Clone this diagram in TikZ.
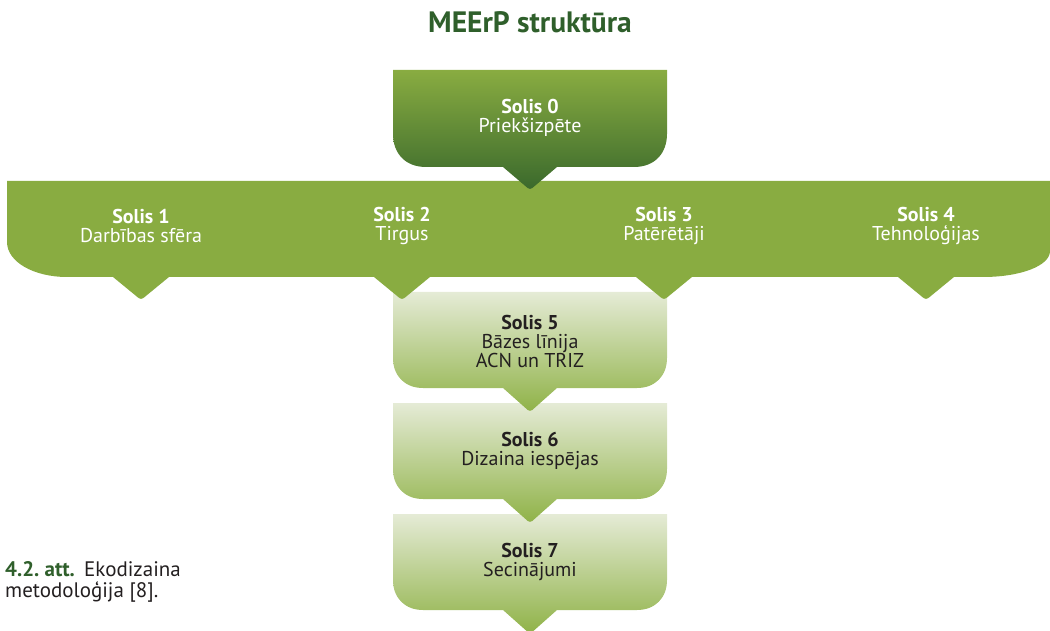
\documentclass[tikz,border=0pt]{standalone}
\usepackage{fontspec}
\setmainfont{PT Sans}
\definecolor{banner}{HTML}{89AC41}
\definecolor{darkg}{HTML}{3A692C}
\definecolor{lightg}{HTML}{E5EBD6}
\definecolor{midg}{HTML}{8FB247}
\definecolor{titleg}{HTML}{2F5F2B}
\definecolor{txt}{HTML}{231F20}
\newcommand\mystepbox[2]{(393,#1) -- (667,#1) -- (667,#2-30) .. controls (667,#2-12) and (655,#2) .. (637,#2) -- (557,#2) [rounded corners=3pt] -- (530,#2+24) [sharp corners] -- (503,#2) -- (423,#2) .. controls (405,#2) and (393,#2-12) .. (393,#2-30) -- cycle}
\tikzset{
  lighttext/.style={align=center, text=txt, inner sep=0pt, font=\fontsize{20}{19}\selectfont},
  darktext/.style={align=center, text=white, inner sep=0pt, font=\fontsize{20}{19}\selectfont},
  lightbox/.style={top color=lightg, bottom color=midg, draw=none},
  darkbox/.style={top color=banner, bottom color=darkg, draw=none},
}
\begin{document}
\begin{tikzpicture}[x=1pt,y=-1pt]
\useasboundingbox (0,0) rectangle (1050,631);
% step boxes 7,6,5 (lower ones first)
\shade[lightbox] \mystepbox{514}{610};
\shade[lightbox] \mystepbox{403}{499};
\shade[lightbox] \mystepbox{292}{388};
% banner
\fill[banner] (7,181) -- (1050,181) -- (1050,251)
  .. controls (1050,266) and (1020,277) .. (983,277)
  -- (954,277) [rounded corners=3pt] -- (926,300) [sharp corners] -- (898,277)
  -- (692,277) [rounded corners=3pt] -- (664,300) [sharp corners] -- (636,277)
  -- (430,277) [rounded corners=3pt] -- (402,300) [sharp corners] -- (374,277)
  -- (169,277) [rounded corners=3pt] -- (141,300) [sharp corners] -- (113,277)
  -- (67,277) .. controls (34,277) and (7,262) .. (7,242) -- cycle;
% step 0
\shade[darkbox] (393,70) -- (667,70) -- (667,134) .. controls (667,153) and (655,167) .. (634,167) -- (557,167) [rounded corners=3pt] -- (530,190) [sharp corners] -- (503,167) -- (426,167) .. controls (405,167) and (393,153) .. (393,134) -- cycle;
% texts
\node[font=\fontsize{29.5}{30}\selectfont\bfseries, text=titleg, inner sep=0pt] (title) at (530,22) {MEErP struktūra};
\node[darktext] (s0) at (530,118) {\textbf{Solis 0}\\Priekšizpēte};
\node[darktext] (s1) at (141,226) {\textbf{Solis 1}\\Darbības sfēra};
\node[darktext] (s2) at (402,226) {\textbf{Solis 2}\\Tirgus};
\node[darktext] (s3) at (664,226) {\textbf{Solis 3}\\Patērētāji};
\node[darktext] (s4) at (926,226) {\textbf{Solis 4}\\Tehnoloģijas};
\node[lighttext] (s5) at (530,341) {\textbf{Solis 5}\\Bāzes līnija\\ACN un TRIZ};
\node[lighttext] (s6) at (530,451) {\textbf{Solis 6}\\Dizaina iespējas};
\node[lighttext] (s7) at (530,562) {\textbf{Solis 7}\\Secinājumi};
\node[anchor=base west, align=left, inner sep=0pt, text=txt, font=\fontsize{21}{21}\selectfont] (cap) at (5,597) {\textcolor{titleg}{\textbf{4.2.~att.}}\hspace{0.45em}Ekodizaina\\metodoloģija [8].};
\end{tikzpicture}
\end{document}
